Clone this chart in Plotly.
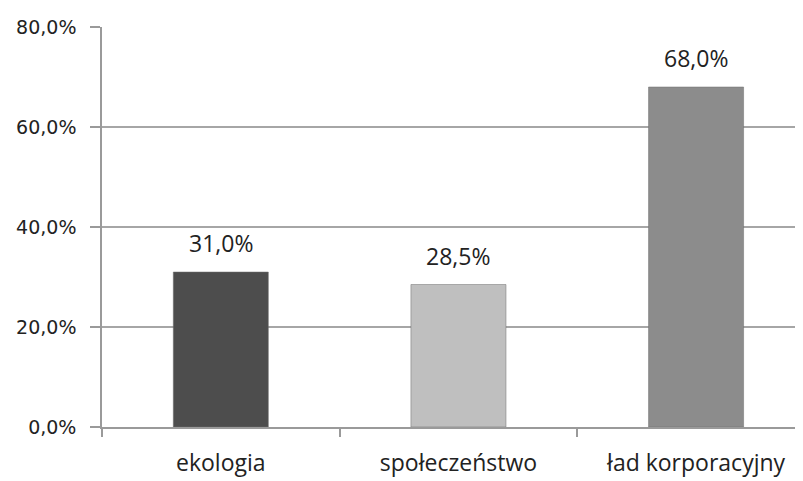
import plotly.graph_objects as go

categories = ["ekologia", "społeczeństwo", "ład korporacyjny"]
values = [0.31, 0.285, 0.68]
bar_colors = ["#4d4d4d", "#bfbfbf", "#8c8c8c"]
y_ticks = [0, 0.2, 0.4, 0.6, 0.8]

fig = go.Figure()
fig.add_trace(go.Bar(
    x=categories, y=values, width=0.4,
    marker=dict(color=bar_colors, line=dict(color="#6e6e6e", width=0.5)),
    showlegend=False,
))
for c, v in zip(categories, values):
    fig.add_annotation(
        x=c, y=v, text=f"{v*100:.1f}%".replace(".", ","),
        showarrow=False, yanchor="bottom", yshift=11,
        font=dict(family="Open Sans, DejaVu Sans", size=23, color="#222"),
    )

fig.update_layout(
    width=803, height=481,
    margin=dict(l=85, r=8, t=13, b=62),
    paper_bgcolor="white", plot_bgcolor="white",
    separators=",.",
    xaxis=dict(
        type="category", range=[-0.5, 2.45],
        showgrid=False, showline=True, linecolor="#9a9a9a", linewidth=1.5,
        ticks="outside", tickson="boundaries", ticklen=8, tickcolor="#9a9a9a",
        tickwidth=1.5, ticklabelstandoff=15,
        tickfont=dict(family="Open Sans, DejaVu Sans", size=23, color="#222"),
    ),
    yaxis=dict(
        range=[0, 0.8], tickvals=y_ticks, tickformat=".1%",
        showgrid=True, gridcolor="#a6a6a6", gridwidth=1.5,
        showline=True, linecolor="#9a9a9a", linewidth=1.5,
        ticks="outside", ticklen=10, tickcolor="#9a9a9a", tickwidth=1.5,
        ticklabelstandoff=10, zeroline=False,
        tickfont=dict(family="DejaVu Sans", size=19, color="#222"),
    ),
    bargap=0.6,
)

fig.write_html("out.html")
